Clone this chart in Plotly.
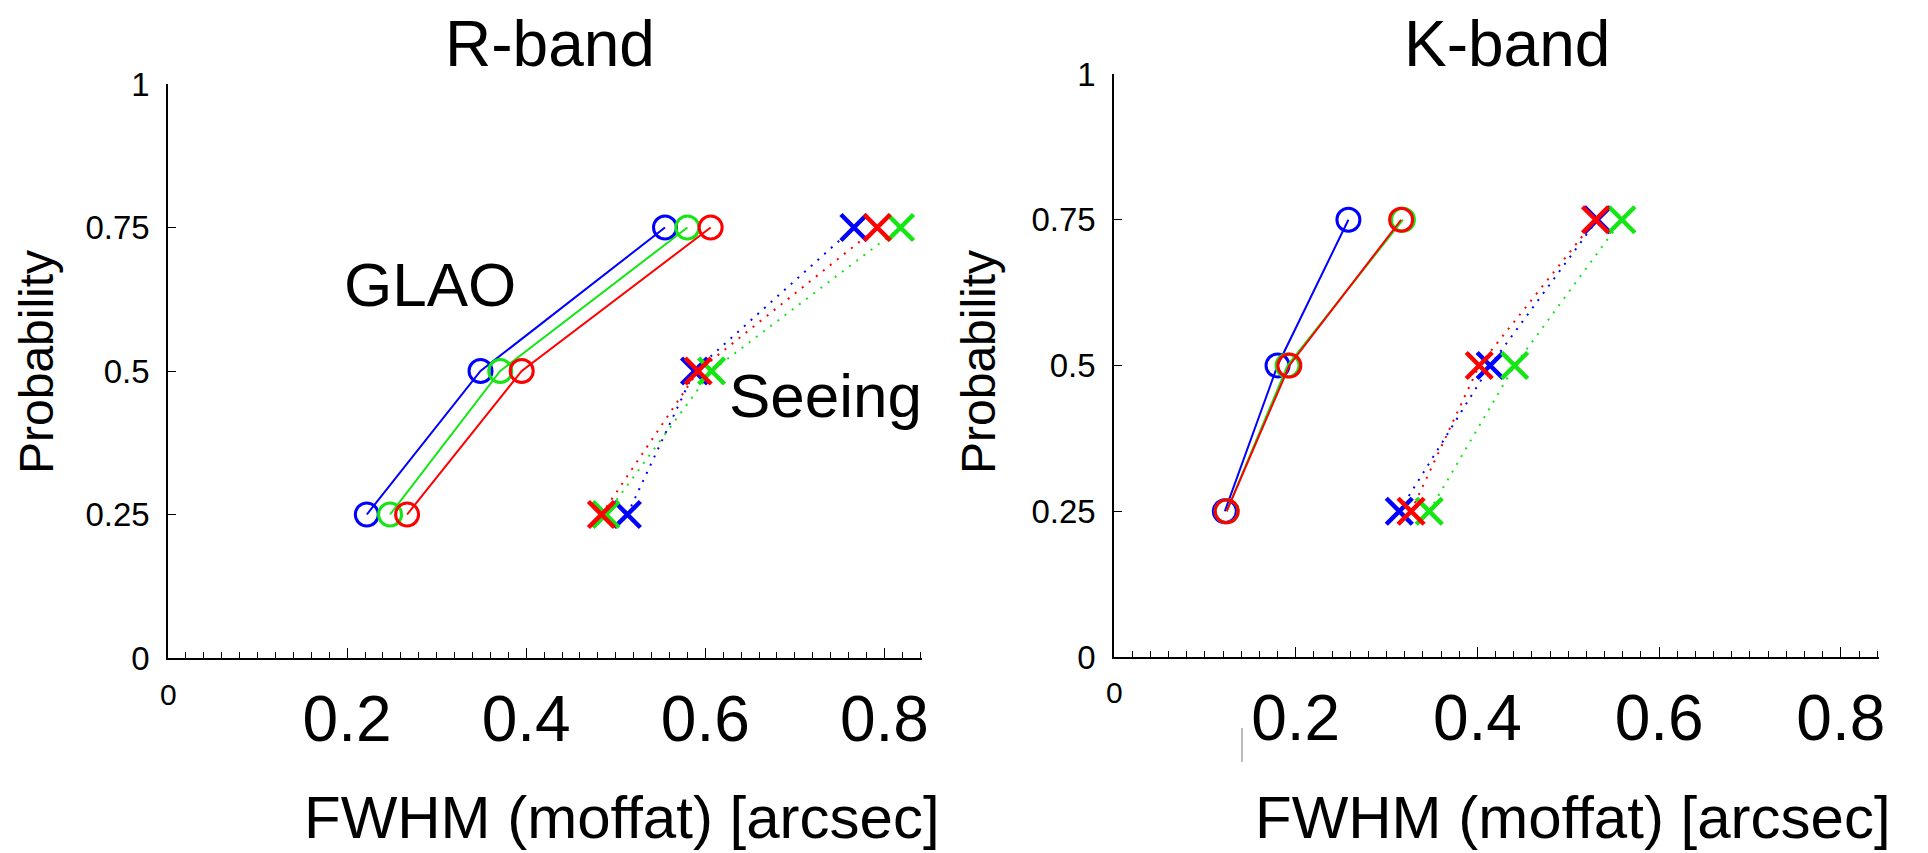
import plotly.graph_objects as go

# ---------------- data ----------------
prob = [0.25, 0.5, 0.75]
colors = {"blue": "#0000ff", "green": "#14e614", "red": "#ff0000"}
order = ["blue", "green", "red"]

r_glao = {
    "blue": [0.222, 0.349, 0.555],
    "green": [0.248, 0.371, 0.580],
    "red": [0.267, 0.395, 0.606],
}
r_seeing = {
    "blue": [0.513, 0.588, 0.766],
    "green": [0.489, 0.607, 0.818],
    "red": [0.484, 0.592, 0.792],
}
k_glao = {
    "blue": [0.122, 0.180, 0.258],
    "green": [0.124, 0.191, 0.318],
    "red": [0.124, 0.193, 0.316],
}
k_seeing = {
    "blue": [0.314, 0.414, 0.532],
    "green": [0.347, 0.441, 0.559],
    "red": [0.327, 0.402, 0.530],
}

x_tickvals = [0.2, 0.4, 0.6, 0.8]
x_ticktext = ["0.2", "0.4", "0.6", "0.8"]
y_tickvals = [0, 0.25, 0.5, 0.75, 1]
y_ticktext = ["0", "0.25", "0.5", "0.75", "1"]
panel_titles = ["R-band", "K-band"]
x_title = "FWHM (moffat) [arcsec]"
y_title = "Probability"

FONT = "Liberation Sans, Arial, sans-serif"

W, H = 1928, 853

fig = go.Figure()


def add_panel(glao, seeing, xa, ya):
    for c in order:
        fig.add_trace(go.Scatter(
            x=glao[c], y=prob, xaxis=xa, yaxis=ya, mode="lines+markers",
            line=dict(color=colors[c], width=2),
            marker=dict(symbol="circle-open", size=23, color=colors[c],
                        line=dict(color=colors[c], width=3)),
            showlegend=False, hoverinfo="skip"))
    for c in order:
        fig.add_trace(go.Scatter(
            x=seeing[c], y=prob, xaxis=xa, yaxis=ya, mode="lines+markers",
            line=dict(color=colors[c], width=2, dash="2px,7px"),
            marker=dict(symbol="x-thin-open", size=26, color=colors[c],
                        line=dict(color=colors[c], width=4.5)),
            showlegend=False, hoverinfo="skip"))


add_panel(r_glao, r_seeing, "x", "y")
add_panel(k_glao, k_seeing, "x2", "y2")

xaxis_common = dict(
    range=[0, 0.842], showgrid=False, zeroline=False, showline=True,
    automargin=False,
    linecolor="black", linewidth=1.5, ticks="inside", ticklen=10,
    tickwidth=1.3, tickcolor="black", tickmode="array",
    tickvals=x_tickvals, ticktext=x_ticktext,
    tickfont=dict(family=FONT, size=64, color="black"),
    ticklabelstandoff=4,
    minor=dict(tickmode="linear", tick0=0, dtick=0.02, ticks="inside",
               ticklen=6, tickwidth=1.3, tickcolor="black"),
    fixedrange=True,
)
yaxis_common = dict(
    range=[0, 1], showgrid=False, zeroline=False, showline=True,
    automargin=False,
    linecolor="black", linewidth=1.5, ticks="inside", ticklen=8,
    tickwidth=1.3, tickcolor="black", tickmode="array",
    tickvals=y_tickvals, ticktext=y_ticktext,
    tickfont=dict(family=FONT, size=33, color="black"),
    ticklabelstandoff=10, fixedrange=True,
)

fig.update_layout(
    width=W, height=H, autosize=False,
    margin=dict(l=0, r=0, t=0, b=0, pad=0),
    paper_bgcolor="white", plot_bgcolor="white",
    xaxis=dict(domain=[168 / W, 922 / W], anchor="y", **xaxis_common),
    yaxis=dict(domain=[1 - 658 / H, 1 - 84 / H], anchor="x", **yaxis_common),
    xaxis2=dict(domain=[1114 / W, 1879 / W], anchor="y2", **xaxis_common),
    yaxis2=dict(domain=[1 - 657 / H, 1 - 74 / H], anchor="x2", **yaxis_common),
)

ann = []
# panel titles
for t, xc in zip(panel_titles, [550 / W, 1507 / W]):
    ann.append(dict(text=t, x=xc, y=1.0 - 6 / H, xref="paper", yref="paper",
                    xanchor="center", yanchor="top", showarrow=False,
                    font=dict(family=FONT, size=64, color="black")))
# x titles
for xc in [622 / W, 1573 / W]:
    ann.append(dict(text=x_title, x=xc, y=0.0, xref="paper", yref="paper",
                    xanchor="center", yanchor="bottom", showarrow=False,
                    font=dict(family=FONT, size=60, color="black")))
# y titles
for xc in [36 / W, 978 / W]:
    ann.append(dict(text=y_title, x=xc, y=1 - 362 / H, xref="paper",
                    yref="paper", xanchor="center", yanchor="middle",
                    textangle=-90, showarrow=False,
                    font=dict(family=FONT, size=48, color="black")))
# small "0" labels under the x axes
for xr, yc in [("x", 1 - 694 / H), ("x2", 1 - 692 / H)]:
    ann.append(dict(text="0", x=0, y=yc, xref=xr, yref="paper",
                    xanchor="center", yanchor="middle", showarrow=False,
                    font=dict(family=FONT, size=30, color="black")))
# in-plot labels
ann.append(dict(text="GLAO", x=0.293, y=0.650, xref="x", yref="y",
                xanchor="center", yanchor="middle", showarrow=False,
                font=dict(family=FONT, size=62, color="black")))
ann.append(dict(text="Seeing", x=0.734, y=0.458, xref="x", yref="y",
                xanchor="center", yanchor="middle", showarrow=False,
                font=dict(family=FONT, size=62, color="black")))
fig.update_layout(annotations=ann)

# small stray mark present in the original image
fig.add_shape(type="line", xref="paper", yref="paper",
              x0=1242 / W, x1=1242 / W, y0=1 - 762 / H, y1=1 - 728 / H,
              line=dict(color="#777777", width=1))

fig.write_html("out.html")
